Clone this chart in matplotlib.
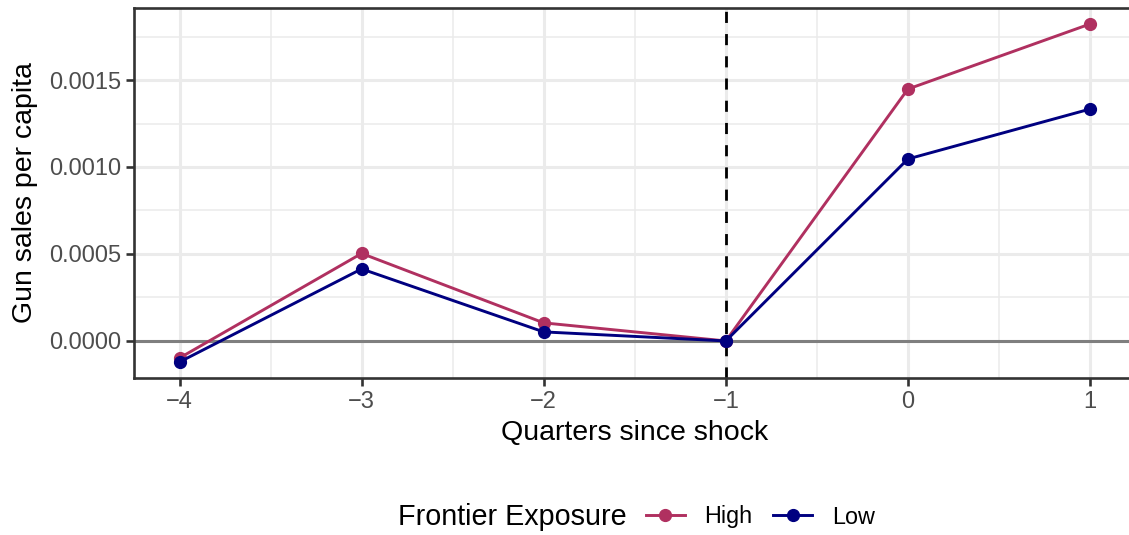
import matplotlib
matplotlib.use("Agg")
import matplotlib.pyplot as plt
from matplotlib.ticker import MultipleLocator, FuncFormatter

plt.rcParams['font.family'] = ['Liberation Sans', 'DejaVu Sans']

quarters = [-4, -3, -2, -1, 0, 1]
high = [-0.000098, 0.000503, 0.000104, 0.0, 0.001448, 0.001822]
low = [-0.000121, 0.000414, 0.000052, 0.0, 0.001046, 0.001333]
series_names = ["High", "Low"]
series_colors = ["#B03060", "#000080"]

W, H = 1129, 535
fig = plt.figure(figsize=(W / 100, H / 100), dpi=100)
left, right, top, bottom = 134, 1135.5, 8, 378
ax = fig.add_axes([left / W, 1 - bottom / H, (right - left) / W, (bottom - top) / H])

ax.set_xlim(-4.25, 1.25)
ax.set_ylim(-0.000213, 0.001914)

ax.xaxis.set_major_locator(MultipleLocator(1))
ax.xaxis.set_minor_locator(MultipleLocator(0.5))
ax.yaxis.set_major_locator(MultipleLocator(0.0005))
ax.yaxis.set_minor_locator(MultipleLocator(0.00025))
ax.yaxis.set_major_formatter(FuncFormatter(lambda v, p: f"{v:.4f}".replace("-", "\u2212") if abs(v) > 1e-12 else "0.0000"))
ax.xaxis.set_major_formatter(FuncFormatter(lambda v, p: f"{int(round(v))}".replace("-", "\u2212")))

ax.grid(which='major', color='#EBEBEB', linewidth=2.2, zorder=0)
ax.grid(which='minor', color='#EBEBEB', linewidth=1.1, zorder=0)
ax.set_axisbelow(True)

for s in ax.spines.values():
    s.set_color('#333333')
    s.set_linewidth(1.9)
ax.spines['right'].set_visible(False)

ax.tick_params(axis='both', which='major', length=5.5, width=1.9, color='#333333',
               labelcolor='#4D4D4D', labelsize=17, pad=4)
ax.tick_params(axis='both', which='minor', length=0)

ax.axhline(0, color='#7F7F7F', linewidth=2.2, zorder=2)
ax.axvline(-1, color='black', linewidth=2.0, linestyle=(0, (4, 4)), zorder=2)

for vals, name, col in zip([high, low], series_names, series_colors):
    ax.plot(quarters, vals, color=col, linewidth=2.1, marker='o', markersize=8.5,
            label=name, zorder=3, clip_on=False)

ax.set_xlabel("Quarters since shock", fontsize=20.5, color='black', labelpad=5)
ax.set_ylabel("Gun sales per capita", fontsize=20.5, color='black', labelpad=8)

fig.text(398 / W, 1 - 517 / H, "Frontier Exposure", fontsize=20.7, ha='left', va='center')
handles, labels = ax.get_legend_handles_labels()
fig.legend(handles, labels, loc='center left', bbox_to_anchor=(646 / W, 1 - 517 / H),
           ncol=2, frameon=False, fontsize=16.8, handlelength=1.65, handletextpad=0.85,
           columnspacing=0.9, borderpad=0, borderaxespad=0)

fig.savefig("out.png", dpi=100)
